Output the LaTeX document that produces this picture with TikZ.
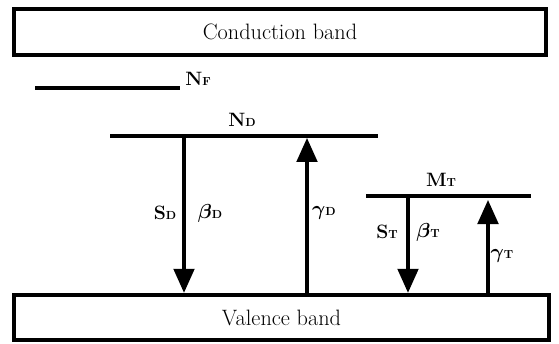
\documentclass[tikz,border=0pt]{standalone}
\usepackage{bm}
\usetikzlibrary{arrows.meta}
\newcommand{\lsub}[1]{{\fontsize{10}{10}\selectfont #1}}

\begin{document}
\begin{tikzpicture}[x=0.03cm, y=-0.03cm,
  band/.style={draw, line width=3.2pt, font=\fontsize{19}{22}\selectfont},
  level/.style={line width=3.8pt},
  trans/.style={line width=2.6pt, -{Triangle[length=0.72cm, width=0.62cm]}},
  lbl/.style={font=\bfseries\fontsize{16.5}{18}\selectfont, inner sep=0pt}]
  \useasboundingbox (0,0) rectangle (559,344);
  % bands
  \node[band, minimum width=15.96cm, minimum height=1.38cm] (cb) at (280,32) {Conduction band};
  \node[band, minimum width=16.05cm, minimum height=1.37cm] (vb) at (281.5,317.5) {Valence band};
  % levels
  \coordinate (nf-l) at (35,88);   \coordinate (nf-r) at (180,88);
  \coordinate (nd-l) at (110,136); \coordinate (nd-r) at (378,136);
  \coordinate (mt-l) at (366,196); \coordinate (mt-r) at (531,196);
  \foreach \a/\b in {nf-l/nf-r, nd-l/nd-r, mt-l/mt-r}
    \draw[level] (\a) -- (\b);
  % transitions
  \coordinate (sd) at (184,136);
  \coordinate (gd) at (307,138);
  \coordinate (st) at (408,196);
  \coordinate (gt) at (488,200);
  \draw[trans] (sd) -- (sd |- vb.north);
  \draw[trans] (gd |- vb.north) -- (gd);
  \draw[trans] (st) -- (st |- vb.north);
  \draw[trans] (gt |- vb.north) -- (gt);
  % labels
  \node[lbl] (nf) at (198,79) {N\lsub{F}};
  \node[lbl] (nd) at (242,120) {N\lsub{D}};
  \node[lbl] (mt) at (441,180) {M\lsub{T}};
  \node[lbl] (sd-lbl) at (165,213) {S\lsub{D}};
  \node[lbl] (bd-lbl) at (210,213) {$\bm{\beta}$\lsub{D}};
  \node[lbl] (gd-lbl) at (324,213) {$\bm{\gamma}$\lsub{D}};
  \node[lbl] (st-lbl) at (387,232) {S\lsub{T}};
  \node[lbl] (bt-lbl) at (428,232) {$\bm{\beta}$\lsub{T}};
  \node[lbl] (gt-lbl) at (502,256) {$\bm{\gamma}$\lsub{T}};
\end{tikzpicture}
\end{document}
